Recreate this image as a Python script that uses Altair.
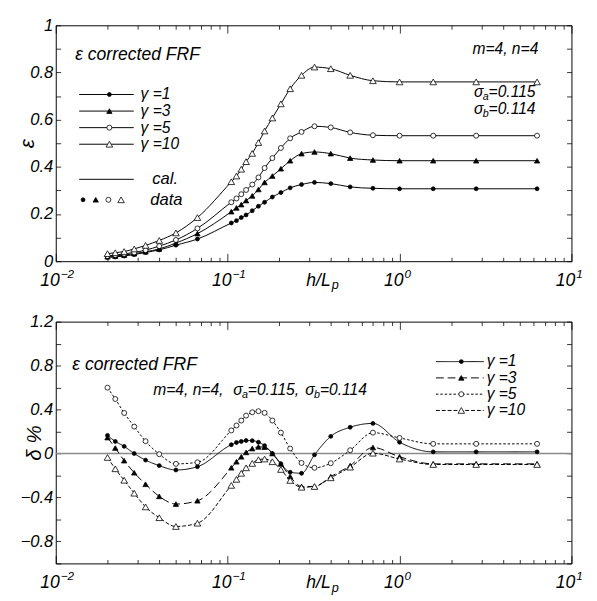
import altair as alt
import pandas as pd

# ---------------- data ----------------
H_LP = [0.02, 0.0222, 0.025, 0.0286, 0.0333, 0.04, 0.05, 0.0667,
        0.105, 0.1125, 0.12, 0.128, 0.139, 0.151, 0.164, 0.182, 0.204,
        0.231, 0.269, 0.32, 0.398, 0.516, 0.70, 1.0, 1.57, 2.79, 6.31]
SERIES = ["γ =1", "γ =3", "γ =5", "γ =10"]

EPS_G1 = [0.016, 0.018, 0.022, 0.028, 0.037, 0.048, 0.068, 0.094,
          0.162, 0.172, 0.185, 0.196, 0.214, 0.233, 0.250, 0.272, 0.291,
          0.311, 0.325, 0.334, 0.329, 0.315, 0.309, 0.307, 0.307, 0.307, 0.307]
EPS_G3 = [0.019, 0.022, 0.026, 0.032, 0.040, 0.052, 0.077, 0.117,
          0.210, 0.226, 0.240, 0.257, 0.277, 0.304, 0.334, 0.361, 0.392,
          0.426, 0.456, 0.463, 0.456, 0.437, 0.429, 0.426, 0.426, 0.426, 0.426]
EPS_G5 = [0.022, 0.026, 0.031, 0.037, 0.047, 0.064, 0.090, 0.139,
          0.250, 0.266, 0.284, 0.302, 0.325, 0.355, 0.395, 0.437, 0.480,
          0.521, 0.548, 0.572, 0.567, 0.546, 0.534, 0.532, 0.532, 0.532, 0.532]
EPS_G10 = [0.032, 0.036, 0.041, 0.052, 0.067, 0.088, 0.120, 0.185,
           0.337, 0.361, 0.390, 0.422, 0.457, 0.503, 0.552, 0.607, 0.667,
           0.731, 0.788, 0.823, 0.816, 0.788, 0.765, 0.760, 0.760, 0.760, 0.760]

DEL_G1 = [0.165, 0.11, 0.065, 0.0, -0.06, -0.11, -0.15, -0.12,
          0.08, 0.10, 0.11, 0.118, 0.117, 0.103, 0.072, 0.0, -0.094,
          -0.17, -0.18, -0.012, 0.156, 0.239, 0.274, 0.103, 0.015, 0.015, 0.015]
DEL_G3 = [0.145, 0.05, -0.065, -0.175, -0.28, -0.39, -0.46, -0.43,
          -0.13, -0.075, -0.03, 0.01, 0.045, 0.06, 0.058, 0.0, -0.094,
          -0.21, -0.30, -0.30, -0.21, -0.11, 0.055, -0.03, -0.094, -0.094, -0.094]
DEL_G5 = [0.599, 0.496, 0.369, 0.245, 0.112, -0.006, -0.094, -0.08,
          0.21, 0.255, 0.30, 0.345, 0.375, 0.385, 0.37, 0.30, 0.19,
          0.045, -0.086, -0.13, -0.088, 0.03, 0.19, 0.142, 0.088, 0.088, 0.088]
DEL_G10 = [-0.036, -0.139, -0.243, -0.361, -0.486, -0.584, -0.664, -0.634,
           -0.29, -0.235, -0.18, -0.13, -0.09, -0.056, -0.05, -0.075, -0.145,
           -0.245, -0.307, -0.30, -0.221, -0.124, 0.003, -0.05, -0.10, -0.10, -0.10]

X_MAJOR = [0.01, 0.1, 1, 10]
X_EXP = ["−2", "−1", "0", "1"]
X_MINOR = [round(k * 10 ** e, 6) for e in (-2, -1, 0) for k in range(2, 10)]
Y1_TICKS = [round(i * 0.1, 2) for i in range(0, 11)]
Y2_TICKS = [round(-1 + i * 0.2, 2) for i in range(0, 12)]

# ---------------- styling ----------------
FONT = "Liberation Sans"
W, H1, H2 = 529, 242, 248
MARK = {
    "γ =1": dict(shape="circle", fill="black", size=16),
    "γ =3": dict(shape="triangle-up", fill="black", size=30),
    "γ =5": dict(shape="circle", fill="white", size=26),
    "γ =10": dict(shape="triangle-up", fill="white", size=46),
}
DASH = {"γ =1": [1, 0], "γ =3": [8, 4], "γ =5": [2.5, 2], "γ =10": [4, 2]}


def long_df(series_vals, col):
    rows = []
    for s, vals in zip(SERIES, series_vals):
        for h, v in zip(H_LP, vals):
            rows.append({"h": h, col: v, "series": s})
    return pd.DataFrame(rows)


def xaxis(orient, values, size):
    return alt.Axis(orient=orient, values=values, tickSize=size, offset=-size,
                    labels=False, domain=False, grid=False, title=None,
                    tickColor="black", tickWidth=0.8)


def yaxis_side(orient, values):
    return alt.Axis(orient=orient, values=values, tickSize=5, offset=-5,
                    labels=False, domain=False, grid=False, title=None,
                    tickColor="black", tickWidth=0.8)


def txt(s, x, y, size=17, align="left", baseline="middle", style="italic"):
    return alt.Chart(pd.DataFrame({"t": [s]})).mark_text(
        font=FONT, fontSize=size, fontStyle=style, align=align,
        baseline=baseline, color="black"
    ).encode(x=alt.value(x), y=alt.value(y), text="t:N")


def legend_line(x1, x2, y, dash=None):
    kw = dict(color="black", strokeWidth=1)
    if dash is not None:
        kw["strokeDash"] = dash
    return alt.Chart(pd.DataFrame({"t": [0]})).mark_rule(**kw).encode(
        x=alt.value(x1), x2=alt.value(x2), y=alt.value(y))


def legend_marker(s, x, y):
    return alt.Chart(pd.DataFrame({"t": [0]})).mark_point(
        filled=True, stroke="black", strokeWidth=0.8, opacity=1, **MARK[s]
    ).encode(x=alt.value(x), y=alt.value(y))


def panel(df, col, yscale, yticks, label_expr, ytitle, title_x, height, dashed):
    xs = alt.Scale(type="log", domain=[0.01, 10])
    left_axis = alt.Axis(orient="left", values=yticks, tickSize=5, offset=-5,
                         domain=False, grid=False, format="~g",
                         labelExpr=label_expr, labelPadding=3,
                         labelOverlap=False, labelFont=FONT, labelFontSize=17,
                         labelFontStyle="italic", labelColor="black",
                         tickColor="black", tickWidth=0.8,
                         title=ytitle, titleX=title_x, titleY=height / 2,
                         titleBaseline="middle", titleFont=FONT,
                         titleFontSize=21, titleFontStyle="italic",
                         titleFontWeight="normal", titleColor="black")
    layers = []
    if dashed:
        layers.append(alt.Chart(pd.DataFrame({"z": [0]})).mark_rule(
            color="#8a8a8a", strokeWidth=1.6).encode(
            y=alt.Y("z:Q", scale=yscale, axis=None)))
    line_enc = dict(
        x=alt.X("h:Q", scale=xs, axis=xaxis("bottom", X_MINOR, 4)),
        y=alt.Y(f"{col}:Q", scale=yscale, axis=left_axis),
        detail="series:N",
    )
    if dashed:
        line_enc["strokeDash"] = alt.StrokeDash(
            "series:N", scale=alt.Scale(domain=SERIES, range=[DASH[s] for s in SERIES]),
            legend=None)
    layers.append(alt.Chart(df).mark_line(
        interpolate="monotone", color="black", strokeWidth=1).encode(**line_enc))

    axes = [
        (xaxis("bottom", X_MAJOR, 8), yaxis_side("right", yticks)),
        (xaxis("top", X_MINOR, 4), None),
        (xaxis("top", X_MAJOR, 8), None),
        (None, None),
    ]
    for s, (ax, ay) in zip(SERIES, axes):
        layers.append(alt.Chart(df).transform_filter(alt.datum.series == s).mark_point(
            filled=True, stroke="black", strokeWidth=0.8, opacity=1, **MARK[s]
        ).encode(
            x=alt.X("h:Q", scale=xs, axis=ax),
            y=alt.Y(f"{col}:Q", scale=yscale, axis=ay),
        ))

    ticks_df = pd.DataFrame({"h": X_MAJOR, "e": X_EXP})
    layers.append(alt.Chart(ticks_df).mark_text(
        font=FONT, fontSize=18, fontStyle="italic", align="right", dx=4,
        baseline="alphabetic", color="black"
    ).encode(x=alt.X("h:Q", scale=xs, axis=None), y=alt.value(height + 25),
             text=alt.value("10")))
    layers.append(alt.Chart(ticks_df).mark_text(
        font=FONT, fontSize=12, fontStyle="italic", align="left", dx=5,
        baseline="alphabetic", color="black"
    ).encode(x=alt.X("h:Q", scale=xs, axis=None), y=alt.value(height + 17.5),
             text="e:N"))
    layers.append(txt("h/L", 282, height + 25, size=18, align="right", baseline="alphabetic"))
    layers.append(txt("p", 283, height + 29, size=13, baseline="alphabetic"))
    return layers


# ---------------- top panel ----------------
df_top = long_df([EPS_G1, EPS_G3, EPS_G5, EPS_G10], "eps")
top_layers = panel(df_top, "eps", alt.Scale(domain=[0, 1], nice=False, zero=False),
                   Y1_TICKS, "round(datum.value*10)%2==0 ? datum.label : ''",
                   "ε", -34, H1, False)
top_layers += [
    txt("ε  corrected FRF", 20, 31, size=18),
    txt("m=4, n=4", 495, 24, size=16, align="right"),
    txt("σ", 429, 69, size=16), txt("a", 438, 74, size=11), txt("=0.115", 444, 69, size=16),
    txt("σ", 429, 86, size=16), txt("b", 438, 91, size=11), txt("=0.114", 444, 86, size=16),
]
for i, s in enumerate(SERIES):
    yy = 71 + i * 17
    top_layers += [legend_line(24, 80, yy), legend_marker(s, 55, yy), txt(s, 87, yy, size=16)]
top_layers += [legend_line(24, 80, 158), txt("cal.", 99, 158)]
for i, s in enumerate(SERIES):
    top_layers.append(legend_marker(s, 28 + i * 13, 179))
top_layers.append(txt("data", 97, 179))

top = alt.layer(*top_layers).resolve_axis(x="independent", y="independent").properties(
    width=W, height=H1)

# ---------------- bottom panel ----------------
df_bot = long_df([DEL_G1, DEL_G3, DEL_G5, DEL_G10], "delta")
bot_layers = panel(df_bot, "delta", alt.Scale(domain=[-1, 1.2], nice=False, zero=False),
                   Y2_TICKS, "round((datum.value+1)*5)%2==1 ? datum.label : ''",
                   "δ %", -27, H2, True)
bot_layers += [
    txt("ε  corrected FRF", 17, 45, size=18),
    txt("m=4, n=4,", 100, 70, size=16),
    txt("σ", 182, 70, size=16), txt("a", 191, 75, size=11), txt("=0.115,", 197, 70, size=16),
    txt("σ", 256, 70, size=16), txt("b", 265, 75, size=11), txt("=0.114", 271, 70, size=16),
]
for i, s in enumerate(SERIES):
    yy = 41 + i * 16.7
    bot_layers += [legend_line(390, 439, yy, DASH[s]), legend_marker(s, 416, yy),
                   txt(s, 442, yy, size=16)]

bottom = alt.layer(*bot_layers).resolve_axis(x="independent", y="independent").properties(
    width=W, height=H2)

chart = alt.vconcat(top, bottom, spacing=62, bounds="flush").resolve_scale(
    x="independent", y="independent"
).properties(
    padding={"left": 8, "top": 0, "right": 5, "bottom": 5},
).configure_view(stroke="black", strokeWidth=1)

chart.save("out.html", embed_options={"renderer": "svg", "actions": False})
